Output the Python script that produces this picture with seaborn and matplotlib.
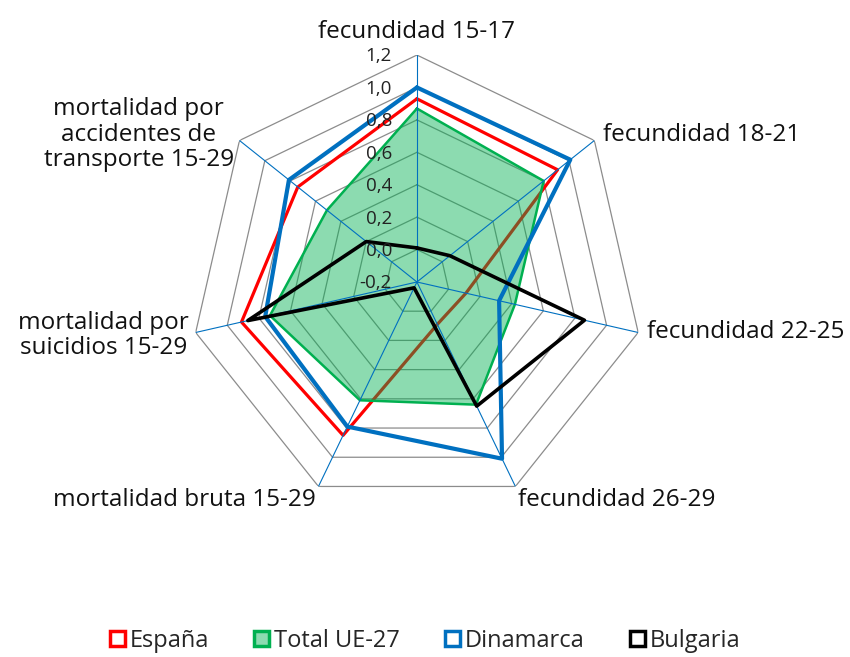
import numpy as np
import matplotlib
matplotlib.use("Agg")
import matplotlib.pyplot as plt
import seaborn as sns
from matplotlib.patches import Patch

# indicadores (sentido horario desde arriba)
categorias = ["fecundidad 15-17", "fecundidad 18-21", "fecundidad 22-25",
              "fecundidad 26-29", "mortalidad bruta 15-29",
              "mortalidad por\nsuicidios 15-29",
              "mortalidad por\naccidentes de\ntransporte 15-29"]

espana = [0.93, 0.91, 0.11, 0.09, 0.85, 0.91, 0.74]
total_ue = [0.87, 0.80, 0.42, 0.64, 0.61, 0.73, 0.51]
dinamarca = [1.00, 1.01, 0.32, 1.01, 0.79, 0.76, 0.81]
bulgaria = [0.01, 0.06, 0.86, 0.65, -0.16, 0.87, 0.20]

ticks = [-0.2, 0.0, 0.2, 0.4, 0.6, 0.8, 1.0, 1.2]
tick_labels = ["-0,2", "0,0", "0,2", "0,4", "0,6", "0,8", "1,0", "1,2"]

sns.set_theme(style="white")
plt.rcParams["font.family"] = ["Open Sans", "DejaVu Sans"]

n = len(categorias)
ang = np.linspace(0, 2 * np.pi, n, endpoint=False)
ang_c = np.append(ang, ang[0] + 2 * np.pi)

def cerrar(v):
    return np.append(v, v[0])

fig = plt.figure(figsize=(8.5, 6.57), dpi=100)
ax = fig.add_axes([0.2235, 0.2253, 0.534, 0.691], projection="polar")
ax.set_theta_zero_location("N")
ax.set_theta_direction(-1)
ax.set_ylim(-0.2, 1.2)
ax.grid(False)
ax.spines["polar"].set_visible(False)
ax.set_xticks([])
ax.set_yticks([])
ax.set_facecolor("none")

# anillos poligonales
for t in ticks[1:]:
    ax.plot(ang_c, [t] * (n + 1), color="#8c8c8c", lw=0.9, zorder=1)

# series
sns.lineplot(x=ang_c, y=cerrar(espana), sort=False, estimator=None, ax=ax,
             color="#FF0000", lw=2.3, zorder=2)
ax.fill(ang_c, cerrar(total_ue), color="#00B050", alpha=0.45, lw=0, zorder=3)
sns.lineplot(x=ang_c, y=cerrar(total_ue), sort=False, estimator=None, ax=ax,
             color="#00B050", lw=1.8, zorder=4)

# ejes radiales
for a in ang:
    ax.plot([a, a], [-0.2, 1.2], color="#0070C0", lw=0.8, zorder=5)

sns.lineplot(x=ang_c, y=cerrar(dinamarca), sort=False, estimator=None, ax=ax,
             color="#0070C0", lw=3.0, zorder=6)
sns.lineplot(x=ang_c, y=cerrar(bulgaria), sort=False, estimator=None, ax=ax,
             color="black", lw=2.6, zorder=7)
ax.set_xlabel("")
ax.set_ylabel("")

# etiquetas del eje radial
for t, lab in zip(ticks, tick_labels):
    ax.annotate(lab, xy=(0, t), xytext=(-18, -1), textcoords="offset points",
                ha="right", va="center", fontsize=13.5, color="#222222",
                zorder=8)

# etiquetas de categorias
pos = [((0, 8), "center", "bottom"),
       ((6, 4), "left", "center"),
       ((6, 0), "left", "center"),
       ((2, -1), "left", "top"),
       ((-2, -1), "right", "top"),
       ((-5, -2), "right", "center"),
       ((-4, 4), "right", "center")]
for a, lab, (off, ha, va) in zip(ang, categorias, pos):
    ax.annotate(lab, xy=(a, 1.2), xytext=off, textcoords="offset points",
                ha=ha, va=va, fontsize=17.5, color="#111111",
                multialignment="center", linespacing=1.08,
                annotation_clip=False)

handles = [Patch(facecolor="white", edgecolor="#FF0000", lw=2.5, label="España"),
           Patch(facecolor="#8CDBB0", edgecolor="#00B050", lw=2.5, label="Total UE-27"),
           Patch(facecolor="white", edgecolor="#0070C0", lw=2.5, label="Dinamarca"),
           Patch(facecolor="white", edgecolor="black", lw=2.5, label="Bulgaria")]
fig.legend(handles=handles, loc="lower center", bbox_to_anchor=(0.5, -0.026),
           ncol=4, frameon=False, fontsize=17, handlelength=0.65,
           handleheight=0.65, handletextpad=0.2, columnspacing=1.9)

fig.savefig("out.png", dpi=100)
